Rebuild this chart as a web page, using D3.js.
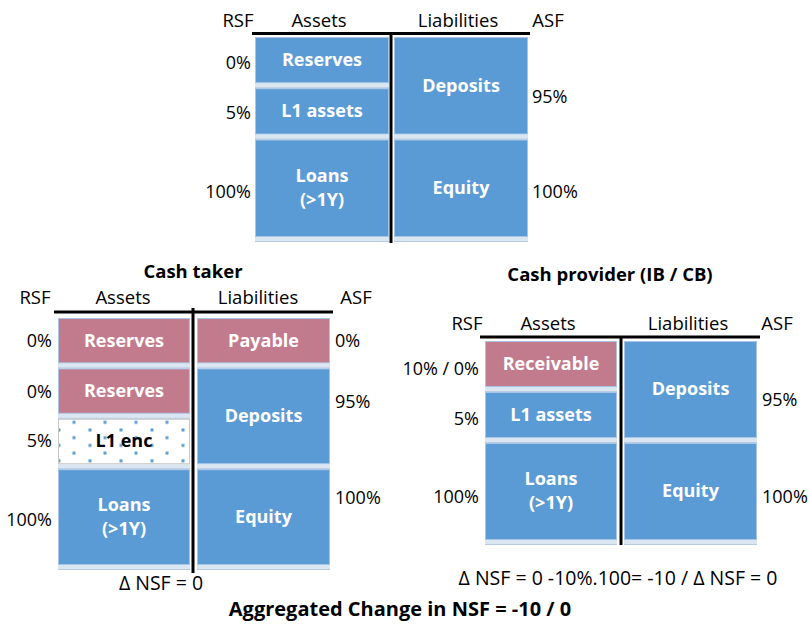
<!DOCTYPE html>
<html><head><meta charset="utf-8">
<script src="https://cdn.jsdelivr.net/npm/d3@7"></script>
<style>body{margin:0;background:#fff}svg{display:block}</style>
</head><body>
<svg id="c" width="810" height="626"></svg>
<script>
// ---------- DATA ----------
const headers = ["RSF", "Assets", "Liabilities", "ASF"];

const topAssets = ["Reserves", "L1 assets", "Loans\n(>1Y)"];
const topAssetUnits = [1, 1, 2];
const topAssetKinds = ["base", "base", "base"];
const topRSF = ["0%", "5%", "100%"];
const topLiabs = ["Deposits", "Equity"];
const topLiabUnits = [2, 2];
const topLiabKinds = ["base", "base"];
const topASF = ["95%", "100%"];

const takerTitle = "Cash taker";
const takerAssets = ["Reserves", "Reserves", "L1 enc", "Loans\n(>1Y)"];
const takerAssetUnits = [1, 1, 1, 2];
const takerAssetKinds = ["repo", "repo", "enc", "base"];
const takerRSF = ["0%", "0%", "5%", "100%"];
const takerLiabs = ["Payable", "Deposits", "Equity"];
const takerLiabUnits = [1, 2, 2];
const takerLiabKinds = ["repo", "base", "base"];
const takerASF = ["0%", "95%", "100%"];
const takerNote = "\u0394 NSF = 0";

const providerTitle = "Cash provider (IB / CB)";
const providerAssets = ["Receivable", "L1 assets", "Loans\n(>1Y)"];
const providerAssetUnits = [1, 1, 2];
const providerAssetKinds = ["repo", "base", "base"];
const providerRSF = ["10% / 0%", "5%", "100%"];
const providerLiabs = ["Deposits", "Equity"];
const providerLiabUnits = [2, 2];
const providerLiabKinds = ["base", "base"];
const providerASF = ["95%", "100%"];
const providerNote = "\u0394 NSF = 0 -10%.100= -10 / \u0394 NSF = 0";

const aggregateNote = "Aggregated Change in NSF = -10 / 0";

// ---------- STYLE / LAYOUT ----------
const FONT = "'Open Sans', 'Noto Sans', sans-serif";
const COL = {base: "#5b9bd5", repo: "#c27b8c", enc: "#ffffff", band: "#dae6f2", bandLine: "#b9cbe0", edge: "#a8c5e6"};
const GAP = 5;

const layouts = [
  {assets: topAssets, aU: topAssetUnits, aK: topAssetKinds, rsf: topRSF,
   liabs: topLiabs, lU: topLiabUnits, lK: topLiabKinds, asf: topASF,
   xL: [255, 389], xR: [394, 528], y: [37, 242], hl: [252, 530, 33.5], vl: [391, 32, 243],
   hy: 20, hx: [238, 319, 458, 548], rsfX: 251, asfX: 532, asfNudge: [11, 3], rsfNudge: [2, 1, 3]},
  {assets: takerAssets, aU: takerAssetUnits, aK: takerAssetKinds, rsf: takerRSF,
   liabs: takerLiabs, lU: takerLiabUnits, lK: takerLiabKinds, asf: takerASF,
   xL: [58, 190], xR: [197, 330], y: [318, 570], hl: [54, 333, 312], vl: [193, 308, 573],
   hy: 297, hx: [35, 123, 258, 356], rsfX: 52, asfX: 335, asfNudge: [0, -15, -20], rsfNudge: [0, 0, -1, 2],
   title: takerTitle, tx: 193, ty: 271, note: takerNote, nx: 161, ny: 583},
  {assets: providerAssets, aU: providerAssetUnits, aK: providerAssetKinds, rsf: providerRSF,
   liabs: providerLiabs, lU: providerLiabUnits, lK: providerLiabKinds, asf: providerASF,
   xL: [485, 617], xR: [624, 757], y: [341, 545], hl: [480, 760, 337], vl: [621, 337, 545],
   hy: 323, hx: [467, 548, 688, 777], rsfX: 479, asfX: 762, asfNudge: [10, 5], rsfNudge: [5, 4, 5],
   title: providerTitle, tx: 610, ty: 274, note: providerNote, nx: 618, ny: 578}
];

const svg = d3.select("#c");
const defs = svg.append("defs");
const pat = defs.append("pattern").attr("id", "dots").attr("patternUnits", "userSpaceOnUse")
  .attr("x", 58.5).attr("y", 418.5).attr("width", 31).attr("height", 15.4);
pat.append("rect").attr("x", 14).attr("y", 2.3).attr("width", 3).attr("height", 3).attr("fill", COL.base);
pat.append("rect").attr("x", -1).attr("y", 10).attr("width", 3).attr("height", 3).attr("fill", COL.base);
pat.append("rect").attr("x", 30).attr("y", 10).attr("width", 3).attr("height", 3).attr("fill", COL.base);

function stackOf(units) {
  let acc = 0;
  return units.map(u => { const s = acc; acc += u; return [s, acc]; });
}

function column(g, names, units, kinds, xr, yScale) {
  const st = stackOf(units);
  const data = names.map((n, i) => ({name: n, s: st[i][0], e: st[i][1], kind: kinds[i]}));
  const cg = g.append("g");
  cg.selectAll("rect.band").data(data).join("rect").attr("class", "band")
    .attr("x", xr[0]).attr("width", xr[1] - xr[0])
    .attr("y", d => yScale(d.e) - GAP).attr("height", GAP).attr("fill", COL.band);
  cg.selectAll("rect.bline").data(data).join("rect").attr("class", "bline")
    .attr("x", xr[0]).attr("width", xr[1] - xr[0])
    .attr("y", d => yScale(d.e) - 1).attr("height", 1).attr("fill", COL.bandLine);
  cg.selectAll("rect.box").data(data).join("rect").attr("class", "box")
    .attr("x", xr[0] + 0.5).attr("width", xr[1] - xr[0] - 1)
    .attr("y", d => yScale(d.s) + 0.5).attr("height", d => yScale(d.e) - yScale(d.s) - GAP - 1)
    .attr("fill", d => COL[d.kind])
    .attr("stroke", d => d.kind === "enc" ? "#c8c8c8" : COL.edge).attr("stroke-width", 1);
  cg.selectAll("rect.pat").data(data.filter(d => d.kind === "enc")).join("rect").attr("class", "pat")
    .attr("x", xr[0] + 1).attr("width", xr[1] - xr[0] - 2)
    .attr("y", d => yScale(d.s) + 1).attr("height", d => yScale(d.e) - yScale(d.s) - GAP - 2)
    .attr("fill", "url(#dots)");
  const cx = (xr[0] + xr[1]) / 2;
  data.forEach(d => {
    const lines = d.name.split("\n");
    const cy = (yScale(d.s) + yScale(d.e) - GAP) / 2;
    const t = cg.append("text").attr("x", cx).attr("text-anchor", "middle")
      .attr("font-family", FONT).attr("font-weight", 700).attr("font-size", 18)
      .attr("fill", d.kind === "enc" ? "#000" : "#fff");
    lines.forEach((ln, i) => {
      t.append("tspan").attr("x", cx)
        .attr("y", cy + (i - (lines.length - 1) / 2) * 24).attr("dy", "0.33em").text(ln);
    });
  });
  return data;
}

layouts.forEach(L => {
  const g = svg.append("g");
  const totA = d3.sum(L.aU), totL = d3.sum(L.lU);
  const yA = d3.scaleLinear().domain([0, totA]).range(L.y);
  const yL = d3.scaleLinear().domain([0, totL]).range(L.y);
  const aData = column(g, L.assets, L.aU, L.aK, L.xL, yA);
  const lData = column(g, L.liabs, L.lU, L.lK, L.xR, yL);
  g.append("line").attr("x1", L.hl[0]).attr("x2", L.hl[1]).attr("y1", L.hl[2]).attr("y2", L.hl[2])
    .attr("stroke", "#000").attr("stroke-width", 3);
  g.append("line").attr("x1", L.vl[0]).attr("x2", L.vl[0]).attr("y1", L.vl[1]).attr("y2", L.vl[2])
    .attr("stroke", "#000").attr("stroke-width", 3);
  g.selectAll("text.hdr").data(headers).join("text").attr("class", "hdr")
    .attr("x", (d, i) => L.hx[i]).attr("y", L.hy).attr("dy", "0.36em").attr("text-anchor", "middle")
    .attr("font-family", FONT).attr("font-size", 18.5).attr("fill", "#000").text(d => d);
  g.selectAll("text.rsf").data(aData).join("text").attr("class", "rsf")
    .attr("x", L.rsfX).attr("y", (d, i) => (yA(d.s) + yA(d.e) - GAP) / 2 + L.rsfNudge[i]).attr("dy", "0.36em")
    .attr("text-anchor", "end").attr("font-family", FONT).attr("font-size", 18).text((d, i) => L.rsf[i]);
  g.selectAll("text.asf").data(lData).join("text").attr("class", "asf")
    .attr("x", L.asfX).attr("y", (d, i) => (yL(d.s) + yL(d.e) - GAP) / 2 + L.asfNudge[i]).attr("dy", "0.36em")
    .attr("text-anchor", "start").attr("font-family", FONT).attr("font-size", 18).text((d, i) => L.asf[i]);
  if (L.title) {
    g.append("text").attr("x", L.tx).attr("y", L.ty).attr("dy", "0.36em").attr("text-anchor", "middle")
      .attr("font-family", FONT).attr("font-weight", 700).attr("font-size", 18.5).text(L.title);
    g.append("text").attr("x", L.nx).attr("y", L.ny).attr("dy", "0.36em").attr("text-anchor", "middle")
      .attr("font-family", FONT).attr("font-size", 19.5).text(L.note);
  }
});

svg.append("text").attr("x", 400).attr("y", 609).attr("dy", "0.36em").attr("text-anchor", "middle")
  .attr("font-family", FONT).attr("font-weight", 700).attr("font-size", 20).text(aggregateNote);
</script>
</body></html>
